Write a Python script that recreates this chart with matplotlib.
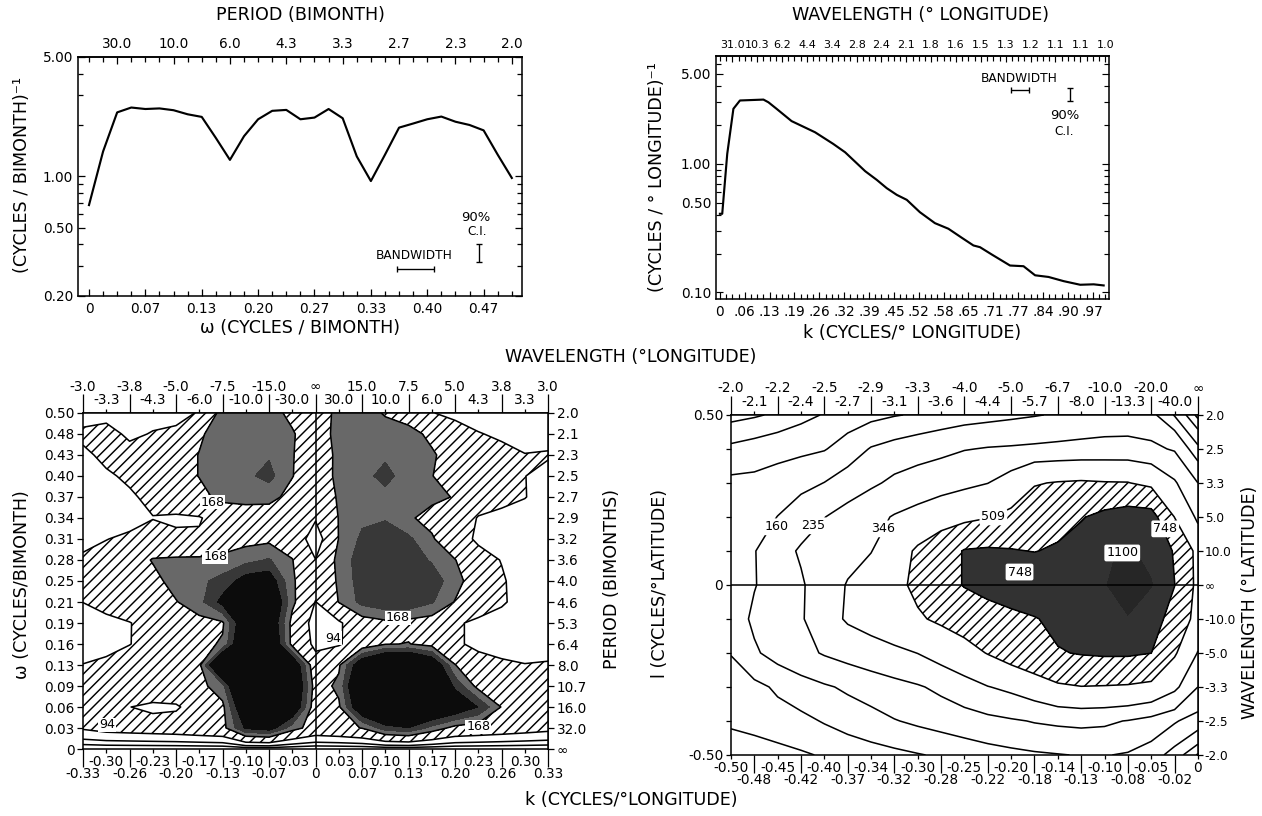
import numpy as np
import matplotlib.pyplot as plt
from matplotlib.ticker import NullFormatter

# the dpi sets the hatch spacing (a hatch cell is one inch);
# P converts the sizes below (tuned for 70 dpi) to this dpi
DPI = 64
P = 70 / DPI

plt.rcParams['font.family'] = 'DejaVu Sans'
plt.rcParams['hatch.linewidth'] = 1.5 * P
plt.rcParams['hatch.color'] = 'black'
plt.rcParams['axes.linewidth'] = 1.6 * P

TICK = 14 * P
LAB = 18 * P
NOTE = 12.5 * P
LW = 1.6 * P

# ---------------- top left: frequency spectrum ----------------
omega_freq = np.arange(31) / 60
power_freq = [0.68, 1.40, 2.37, 2.53, 2.48, 2.50, 2.44, 2.31, 2.23, 1.68, 1.25,
              1.72, 2.16, 2.42, 2.45, 2.16, 2.21, 2.48, 2.19, 1.31, 0.94,
              1.34, 1.93, 2.04, 2.16, 2.24, 2.09, 2.00, 1.86, 1.34, 0.98]
tl_bottom_pos = np.arange(0, 15, 2) / 30
tl_bottom_labels = ['0', '0.07', '0.13', '0.20', '0.27', '0.33', '0.40', '0.47']
tl_top_pos = np.arange(1, 16, 2) / 30
tl_top_labels = ['30.0', '10.0', '6.0', '4.3', '3.3', '2.7', '2.3', '2.0']

# ---------------- top right: wavenumber spectrum ----------------
k_wave = [0.000, 0.006, 0.019, 0.035, 0.052, 0.113, 0.126, 0.147, 0.186, 0.247,
          0.294, 0.325, 0.377, 0.407, 0.433, 0.459, 0.485, 0.519, 0.558, 0.593,
          0.628, 0.658, 0.675, 0.706, 0.753, 0.788, 0.818, 0.853, 0.892, 0.935,
          0.970, 0.996]
power_wave = [0.409, 0.409, 1.196, 2.68, 3.11, 3.16, 3.01, 2.68, 2.15, 1.76,
              1.43, 1.23, 0.877, 0.751, 0.647, 0.574, 0.525, 0.421, 0.346, 0.313,
              0.266, 0.232, 0.225, 0.197, 0.162, 0.160, 0.136, 0.132, 0.1225, 0.1148,
              0.1157, 0.1134]
tr_bottom_pos = np.arange(16) / 15.5
tr_bottom_labels = ['0', '.06', '.13', '.19', '.26', '.32', '.39', '.45', '.52',
                    '.58', '.65', '.71', '.77', '.84', '.90', '.97']
tr_top_pos = (np.arange(16) + 0.5) / 15.5
tr_top_labels = ['31.0', '10.3', '6.2', '4.4', '3.4', '2.8', '2.4', '2.1', '1.8',
                 '1.6', '1.5', '1.3', '1.2', '1.1', '1.1', '1.0']

# ---------------- bottom left: k-omega spectrum ----------------
k_bl = np.arange(-10, 11) / 30
omega_bl = np.arange(17) / 32
# rows from omega = 0 (first) to omega = 0.5 (last)
power_bl = np.array([
    [10, 10, 10, 10, 10, 10, 10, 10, 10, 10, 10, 10, 10, 10, 10, 10, 10, 10, 10, 10, 10],
    [100, 115, 120, 125, 130, 140, 150, 270, 290, 190, 140, 150, 170, 240, 260, 200, 150, 140, 130, 120, 110],
    [110, 120, 95, 80, 85, 130, 155, 340, 400, 330, 130, 160, 330, 400, 400, 360, 320, 260, 165, 130, 115],
    [110, 125, 140, 145, 150, 150, 200, 420, 430, 360, 140, 180, 380, 420, 420, 380, 250, 150, 130, 115, 105],
    [96, 110, 130, 140, 150, 155, 400, 430, 430, 330, 120, 160, 320, 400, 410, 330, 170, 110, 100, 95, 96],
    [60, 70, 92, 120, 130, 150, 175, 360, 360, 150, 80, 88, 130, 165, 170, 150, 100, 85, 80, 80, 85],
    [60, 75, 92, 115, 135, 150, 160, 330, 330, 150, 70, 85, 140, 155, 150, 140, 100, 85, 75, 75, 75],
    [95, 120, 130, 140, 165, 200, 280, 350, 360, 180, 92, 170, 230, 250, 250, 220, 165, 120, 100, 75, 75],
    [120, 130, 140, 150, 190, 205, 230, 290, 300, 175, 120, 175, 240, 255, 255, 240, 190, 130, 100, 70, 70],
    [105, 125, 135, 172, 178, 180, 185, 200, 220, 170, 95, 185, 240, 250, 240, 210, 170, 115, 92, 70, 65],
    [75, 92, 110, 120, 105, 100, 130, 150, 155, 140, 60, 170, 225, 235, 225, 175, 120, 85, 70, 60, 60],
    [56, 58, 65, 92, 85, 90, 120, 130, 135, 120, 100, 170, 205, 212, 175, 150, 140, 90, 80, 70, 65],
    [58, 60, 85, 110, 135, 150, 185, 190, 185, 150, 120, 175, 200, 205, 195, 180, 165, 130, 110, 96, 70],
    [60, 85, 105, 130, 140, 170, 200, 205, 230, 170, 130, 182, 205, 225, 200, 170, 135, 120, 110, 95, 75],
    [80, 110, 130, 135, 140, 170, 200, 205, 210, 172, 120, 185, 205, 210, 205, 178, 130, 125, 110, 96, 100],
    [110, 130, 75, 100, 110, 160, 195, 200, 205, 175, 120, 195, 205, 205, 195, 150, 120, 97, 85, 70, 70],
    [60, 60, 56, 60, 70, 100, 190, 200, 195, 150, 120, 190, 205, 160, 130, 96, 80, 70, 65, 65, 70],
])
bl_levels = [0, 94, 168, 215, 262, 1000]
bl_lines = [29, 52, 94, 168]
bl_kmaj = np.arange(-5, 6) / 15
bl_kmaj_labels = ['-0.33', '-0.26', '-0.20', '-0.13', '-0.07', '0', '0.07', '0.13', '0.20', '0.26', '0.33']
bl_kmin = np.arange(-9, 10, 2) / 30
bl_kmin_labels = ['-0.30', '-0.23', '-0.17', '-0.10', '-0.03', '0.03', '0.10', '0.17', '0.23', '0.30']
bl_wmaj_labels = ['-3.0', '-3.8', '-5.0', '-7.5', '-15.0', '∞', '15.0', '7.5', '5.0', '3.8', '3.0']
bl_wmin_labels = ['-3.3', '-4.3', '-6.0', '-10.0', '-30.0', '30.0', '10.0', '6.0', '4.3', '3.3']
bl_omega_labels = ['0', '0.03', '0.06', '0.09', '0.13', '0.16', '0.19', '0.21', '0.25', '0.28',
                   '0.31', '0.34', '0.37', '0.40', '0.43', '0.48', '0.50']
bl_period_labels = ['∞', '32.0', '16.0', '10.7', '8.0', '6.4', '5.3', '4.6', '4.0', '3.6',
                    '3.2', '2.9', '2.7', '2.5', '2.3', '2.1', '2.0']

# ---------------- bottom right: k-l spectrum ----------------
k_br = np.arange(-20, 1) / 40
l_br = np.arange(-5, 6) / 10
# rows from l = -0.5 (first) to l = 0.5 (last)
power_br = np.array([
    [54, 59, 64, 70, 77, 83, 90, 97, 106, 115, 125, 135, 143, 151, 157, 163, 163, 154, 132, 90, 47],
    [80, 85, 92, 99, 112, 126, 140, 157, 170, 182, 195, 210, 225, 240, 249, 254, 249, 231, 202, 166, 132],
    [86, 97, 116, 133, 152, 170, 187, 206, 226, 255, 295, 342, 373, 419, 480, 504, 498, 489, 462, 373, 235],
    [111, 152, 182, 212, 242, 265, 290, 317, 348, 396, 453, 516, 582, 653, 733, 762, 777, 777, 750, 528, 340],
    [127, 171, 197, 226, 291, 361, 400, 444, 491, 536, 579, 628, 679, 733, 807, 872, 941, 1077, 839, 666, 436],
    [132, 157, 187, 225, 282, 354, 407, 467, 543, 643, 762, 839, 906, 941, 978, 1017, 1077, 1281, 1120, 752, 453],
    [127, 157, 201, 245, 274, 306, 342, 427, 534, 640, 762, 777, 762, 741, 777, 839, 1057, 1141, 1017, 719, 453],
    [120, 135, 161, 194, 233, 270, 312, 354, 385, 419, 458, 499, 547, 602, 666, 733, 807, 855, 839, 505, 320],
    [118, 120, 130, 143, 161, 187, 219, 254, 280, 302, 320, 344, 403, 499, 518, 528, 518, 515, 462, 359, 235],
    [80, 86, 93, 99, 106, 130, 164, 180, 194, 210, 231, 240, 244, 249, 254, 259, 264, 264, 254, 226, 118],
    [42, 47, 54, 65, 76, 85, 95, 106, 114, 122, 130, 138, 147, 156, 166, 176, 183, 187, 176, 105, 42],
])
br_levels = [0, 509, 748, 1100, 5000]
br_lines = [50, 74, 109, 160, 235, 346, 509, 748]
br_kmaj = np.arange(-19, 0, 2) / 40
br_kmaj_labels = ['-0.48', '-0.42', '-0.37', '-0.32', '-0.28', '-0.22', '-0.18', '-0.13', '-0.08', '-0.02']
br_kmin = np.arange(-10, 1) / 20
br_kmin_labels = ['-0.50', '-0.45', '-0.40', '-0.34', '-0.30', '-0.25', '-0.20', '-0.14', '-0.10', '-0.05', '0']
br_wmaj_labels = ['-2.0', '-2.2', '-2.5', '-2.9', '-3.3', '-4.0', '-5.0', '-6.7', '-10.0', '-20.0', '∞']
br_wmin_labels = ['-2.1', '-2.4', '-2.7', '-3.1', '-3.6', '-4.4', '-5.7', '-8.0', '-13.3', '-40.0']
br_lat_labels = ['-2.0', '-2.5', '-3.3', '-5.0', '-10.0', '∞', '10.0', '5.0', '3.3', '2.5', '2.0']

fig = plt.figure(figsize=(1262.01 / DPI, 816.01 / DPI), dpi=DPI, facecolor='white')

# ===== top left =====
ax1 = fig.add_axes([0.0618, 0.6373, 0.3518, 0.2929])
ax1.plot(omega_freq, power_freq, color='black', lw=2.2 * P)
ax1.set_yscale('log')
ax1.set_xlim(-0.013, 0.512)
ax1.set_ylim(0.2, 5.0)
ax1.set_xticks(tl_bottom_pos, tl_bottom_labels)
ax1.set_xticks(omega_freq, minor=True)
ax1.set_yticks([0.2, 0.5, 1.0, 5.0], ['0.20', '0.50', '1.00', '5.00'])
ax1.set_yticks([0.3, 0.4, 0.6, 0.7, 0.8, 0.9, 2, 3, 4], minor=True)
ax1.yaxis.set_minor_formatter(NullFormatter())
ax1.tick_params(which='both', direction='in', right=True, labelsize=TICK, width=1.3 * P)
ax1.tick_params(which='major', length=7 * P)
ax1.tick_params(which='minor', length=5 * P)
ax1.tick_params(axis='x', pad=6 * P)
ax1.tick_params(axis='y', pad=5 * P)
top1 = ax1.secondary_xaxis('top')
top1.set_xticks(tl_top_pos, tl_top_labels)
top1.set_xticks(omega_freq, minor=True)
top1.tick_params(which='both', direction='in', labelsize=TICK, width=1.3 * P, pad=6 * P)
top1.tick_params(which='major', length=7 * P)
top1.tick_params(which='minor', length=5 * P)

ax1.text(0.385, 0.345, 'BANDWIDTH', ha='center', va='center', fontsize=NOTE)
ax1.errorbar(0.386, 0.289, xerr=0.022, fmt='none', ecolor='k', capsize=3 * P,
             elinewidth=1.4 * P, capthick=1.4 * P)
ax1.errorbar(0.461, 0.356, yerr=[[0.042], [0.045]], fmt='none', ecolor='k', capsize=3 * P,
             elinewidth=1.4 * P, capthick=1.4 * P)
ax1.text(0.457, 0.575, '90%', ha='center', va='center', fontsize=13.5 * P)
ax1.text(0.459, 0.475, 'C.I.', ha='center', va='center', fontsize=NOTE)

fig.text(0.2377, 0.9816, 'PERIOD (BIMONTH)', ha='center', va='center', fontsize=LAB)
fig.text(0.2377, 0.598, 'ω (CYCLES / BIMONTH)', ha='center', va='center', fontsize=LAB)
fig.text(0.0174, 0.7855, '(CYCLES / BIMONTH)⁻¹', ha='center', va='center', rotation=90, fontsize=LAB)

# ===== top right =====
ax2 = fig.add_axes([0.5674, 0.6336, 0.3114, 0.2978])
ax2.plot(k_wave, power_wave, color='black', lw=2.2 * P)
ax2.set_yscale('log')
ax2.set_xlim(-0.01, 1.01)
ax2.set_ylim(0.089, 6.9)
ax2.set_xticks(tr_bottom_pos, tr_bottom_labels)
ax2.set_xticks(np.arange(63) / 62, minor=True)
ax2.set_yticks([0.1, 0.5, 1.0, 5.0], ['0.10', '0.50', '1.00', '5.00'])
ax2.set_yticks([0.2, 0.3, 0.4, 0.6, 0.7, 0.8, 0.9, 2, 3, 4, 6], minor=True)
ax2.yaxis.set_minor_formatter(NullFormatter())
ax2.tick_params(which='both', direction='in', right=True, labelsize=TICK, width=1.2 * P)
ax2.tick_params(which='major', length=7 * P)
ax2.tick_params(which='minor', length=5 * P)
ax2.tick_params(axis='x', pad=6 * P)
ax2.tick_params(axis='y', pad=5 * P)
top2 = ax2.secondary_xaxis('top')
top2.set_xticks(tr_top_pos, tr_top_labels)
top2.set_xticks(np.arange(63) / 62, minor=True)
top2.tick_params(which='both', direction='in', labelsize=11.5 * P, width=1.2 * P, pad=6 * P)
top2.tick_params(which='major', length=6 * P)
top2.tick_params(which='minor', length=5 * P)

ax2.text(0.777, 4.62, 'BANDWIDTH', ha='center', va='center', fontsize=NOTE)
ax2.errorbar(0.778, 3.77, xerr=0.023, fmt='none', ecolor='k', capsize=3 * P,
             elinewidth=1.4 * P, capthick=1.4 * P)
ax2.errorbar(0.909, 3.48, yerr=[[0.39], [0.42]], fmt='none', ecolor='k', capsize=3 * P,
             elinewidth=1.4 * P, capthick=1.4 * P)
ax2.text(0.894, 2.39, '90%', ha='center', va='center', fontsize=13.5 * P)
ax2.text(0.894, 1.80, 'C.I.', ha='center', va='center', fontsize=NOTE)

fig.text(0.729, 0.9816, 'WAVELENGTH (° LONGITUDE)', ha='center', va='center', fontsize=LAB)
fig.text(0.7227, 0.592, 'k (CYCLES/° LONGITUDE)', ha='center', va='center', fontsize=LAB)
fig.text(0.5206, 0.783, '(CYCLES / ° LONGITUDE)⁻¹', ha='center', va='center', rotation=90, fontsize=LAB)

# ===== bottom left =====
ax3 = fig.add_axes([0.0658, 0.0821, 0.3685, 0.4118])
ax3.contourf(k_bl, omega_bl, power_bl, levels=bl_levels,
             colors=['white', 'white', '#686868', '#383838', '#0c0c0c'],
             hatches=[None, '//', None, None, None])
ax3.contour(k_bl, omega_bl, power_bl, levels=bl_lines, colors='k', linewidths=LW)
ax3.axvline(0, color='k', lw=LW)
ax3.set_xlim(-1 / 3, 1 / 3)
ax3.set_ylim(0, 0.5)
ax3.set_xticks(bl_kmaj, bl_kmaj_labels)
ax3.set_xticks(bl_kmin, bl_kmin_labels, minor=True)
ax3.set_yticks(omega_bl, bl_omega_labels)
ax3.tick_params(which='both', direction='out', labelsize=TICK, width=1.3 * P)
ax3.tick_params(axis='x', which='major', length=19 * P, pad=0)
ax3.tick_params(axis='x', which='minor', length=4 * P, pad=2 * P)
ax3.tick_params(axis='y', length=6 * P, pad=3 * P)
top3 = ax3.secondary_xaxis('top')
top3.set_xticks(bl_kmaj, bl_wmaj_labels)
top3.set_xticks(bl_kmin, bl_wmin_labels, minor=True)
top3.tick_params(which='both', direction='out', labelsize=TICK, width=1.3 * P)
top3.tick_params(which='major', length=20 * P, pad=0)
top3.tick_params(which='minor', length=4 * P, pad=2 * P)
right3 = ax3.secondary_yaxis('right')
right3.set_yticks(omega_bl, bl_period_labels)
right3.tick_params(direction='out', length=6 * P, pad=3 * P, labelsize=TICK, width=1.3 * P)

box = dict(facecolor='white', edgecolor='none', pad=0.6 * P)
for (x, y, s) in [(-0.148, 0.3675, '168'), (-0.144, 0.286, '168'), (0.118, 0.195, '168'),
                  (0.233, 0.033, '168'), (-0.299, 0.036, '94'), (0.025, 0.165, '94')]:
    ax3.text(x, y, s, ha='center', va='center', fontsize=13 * P, bbox=box)

fig.text(0.0174, 0.283, 'ω (CYCLES/BIMONTH)', ha='center', va='center', rotation=90, fontsize=LAB)
fig.text(0.485, 0.291, 'PERIOD (BIMONTHS)', ha='center', va='center', rotation=90, fontsize=LAB)

# ===== bottom right =====
ax4 = fig.add_axes([0.5792, 0.0748, 0.3700, 0.4167])
ax4.contourf(k_br, l_br, power_br, levels=br_levels,
             colors=['white', 'white', '#323232', '#262626'],
             hatches=[None, '//', None, None])
ax4.contour(k_br, l_br, power_br, levels=br_lines, colors='k', linewidths=LW)
ax4.axhline(0, color='k', lw=LW)
ax4.set_xlim(-0.5, 0)
ax4.set_ylim(-0.5, 0.5)
ax4.set_xticks(br_kmaj, br_kmaj_labels)
ax4.set_xticks(br_kmin, br_kmin_labels, minor=True)
ax4.set_yticks([-0.5, 0, 0.5], ['-0.50', '0', '0.50'])
ax4.set_yticks(l_br, minor=True)
ax4.tick_params(which='both', direction='out', labelsize=TICK, width=1.3 * P)
ax4.tick_params(axis='x', which='major', length=19 * P, pad=0)
ax4.tick_params(axis='x', which='minor', length=4 * P, pad=2 * P)
ax4.tick_params(axis='y', which='both', length=5 * P, pad=3 * P)
top4 = ax4.secondary_xaxis('top')
top4.set_xticks(br_kmin, br_wmaj_labels)
top4.set_xticks(br_kmaj, br_wmin_labels, minor=True)
top4.tick_params(which='both', direction='out', labelsize=TICK, width=1.3 * P)
top4.tick_params(which='major', length=20 * P, pad=0)
top4.tick_params(which='minor', length=4 * P, pad=2 * P)
right4 = ax4.secondary_yaxis('right')
right4.set_yticks(l_br, br_lat_labels)
right4.tick_params(direction='out', length=5 * P, pad=2 * P, labelsize=12.5 * P, width=1.3 * P)

rbox = dict(boxstyle='round,pad=0.15', facecolor='white', edgecolor='none')
for (x, y, s) in [(-0.451, 0.171, '160'), (-0.412, 0.174, '235'), (-0.337, 0.165, '346'),
                  (-0.219, 0.2, '509'), (-0.191, 0.038, '748'), (-0.035, 0.165, '748'),
                  (-0.081, 0.094, '1100')]:
    ax4.text(x, y, s, ha='center', va='center', fontsize=13 * P, bbox=rbox)

fig.text(0.523, 0.2855, 'l (CYCLES/°LATITUDE)', ha='center', va='center', rotation=90, fontsize=LAB)
fig.text(0.9905, 0.262, 'WAVELENGTH (°LATITUDE)', ha='center', va='center', rotation=90, fontsize=LAB)

# shared labels of the bottom row
fig.text(0.5, 0.5625, 'WAVELENGTH (°LONGITUDE)', ha='center', va='center', fontsize=LAB)
fig.text(0.5, 0.0196, 'k (CYCLES/°LONGITUDE)', ha='center', va='center', fontsize=LAB)

fig.savefig('out.png', dpi=DPI, facecolor='white')
